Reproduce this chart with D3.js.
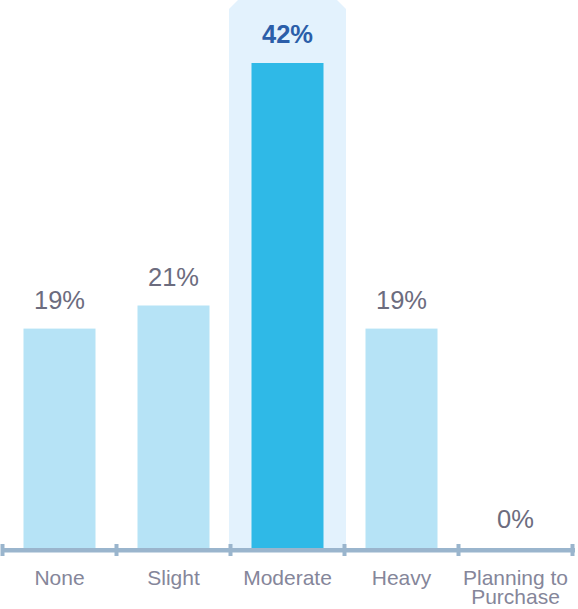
<!DOCTYPE html>
<html>
<head>
<meta charset="utf-8">
<script src="https://cdn.jsdelivr.net/npm/d3@7"></script>
<style>
  html, body { margin: 0; padding: 0; background: #fff; }
  svg { display: block; font-family: "Liberation Sans", Arial, sans-serif; }
</style>
</head>
<body>
<svg id="chart" width="578" height="609"></svg>
<script>
// Share of respondents by usage level
const categories = ["None", "Slight", "Moderate", "Heavy", "Planning to\nPurchase"];
const values = [19, 21, 42, 19, 0];
const valueLabels = ["19%", "21%", "42%", "19%", "0%"];
const highlighted = "Moderate";

const baseY = 548;

const svg = d3.select("#chart");

const x = d3.scaleBand()
  .domain(categories)
  .range([2.5, 572.5])
  .paddingInner(0)
  .paddingOuter(0);

const y = d3.scaleLinear()
  .domain([0, 42])
  .range([baseY, 63]);

const bw = x.bandwidth();
const barW = 72;

// Highlight panel behind the emphasised category (top corners bevelled)
{
  const x0 = x(highlighted) - 1.5, x1 = x(highlighted) + bw + 1.5, cut = 9;
  svg.append("path")
    .attr("d", `M${x0},${baseY} L${x0},${cut} L${x0 + cut},0 L${x1 - cut},0 L${x1},${cut} L${x1},${baseY} Z`)
    .attr("fill", "#e3f2fd");
}

// Bars
svg.append("g").selectAll("rect")
  .data(categories)
  .join("rect")
  .attr("x", d => x(d) + (bw - barW) / 2)
  .attr("y", (d, i) => y(values[i]))
  .attr("width", barW)
  .attr("height", (d, i) => baseY - y(values[i]))
  .attr("fill", d => d === highlighted ? "#2fb9e7" : "#b6e3f6");

// Value labels
svg.append("g").selectAll("text")
  .data(categories)
  .join("text")
  .attr("x", d => x(d) + bw / 2)
  .attr("y", (d, i) => y(values[i]) - 20)
  .attr("text-anchor", "middle")
  .attr("font-size", 25.5)
  .attr("font-weight", d => d === highlighted ? "bold" : "normal")
  .attr("fill", d => d === highlighted ? "#2b5ea9" : "#6c6c7e")
  .text((d, i) => valueLabels[i]);

// Axis line
const axisColor = "#9ab5cd";
svg.append("rect")
  .attr("x", 1).attr("y", baseY)
  .attr("width", 574).attr("height", 4.5)
  .attr("fill", axisColor);

// Tick marks at band boundaries
const edges = categories.map(d => x(d)).concat([x(categories[categories.length - 1]) + bw]);
svg.append("g").selectAll("rect")
  .data(edges)
  .join("rect")
  .attr("x", d => d - 2)
  .attr("y", 544)
  .attr("width", 4)
  .attr("height", 12)
  .attr("fill", axisColor);

// Category labels (multi-line where the name contains a line break)
svg.append("g").selectAll("text")
  .data(categories)
  .join("text")
  .attr("x", d => x(d) + bw / 2)
  .attr("y", 585)
  .attr("text-anchor", "middle")
  .attr("font-size", 21)
  .attr("fill", "#85869a")
  .each(function(d) {
    const lines = d.split("\n");
    d3.select(this).selectAll("tspan")
      .data(lines)
      .join("tspan")
      .attr("x", x(d) + bw / 2)
      .attr("dy", (l, i) => i === 0 ? 0 : 19)
      .text(l => l);
  });
</script>
</body>
</html>
